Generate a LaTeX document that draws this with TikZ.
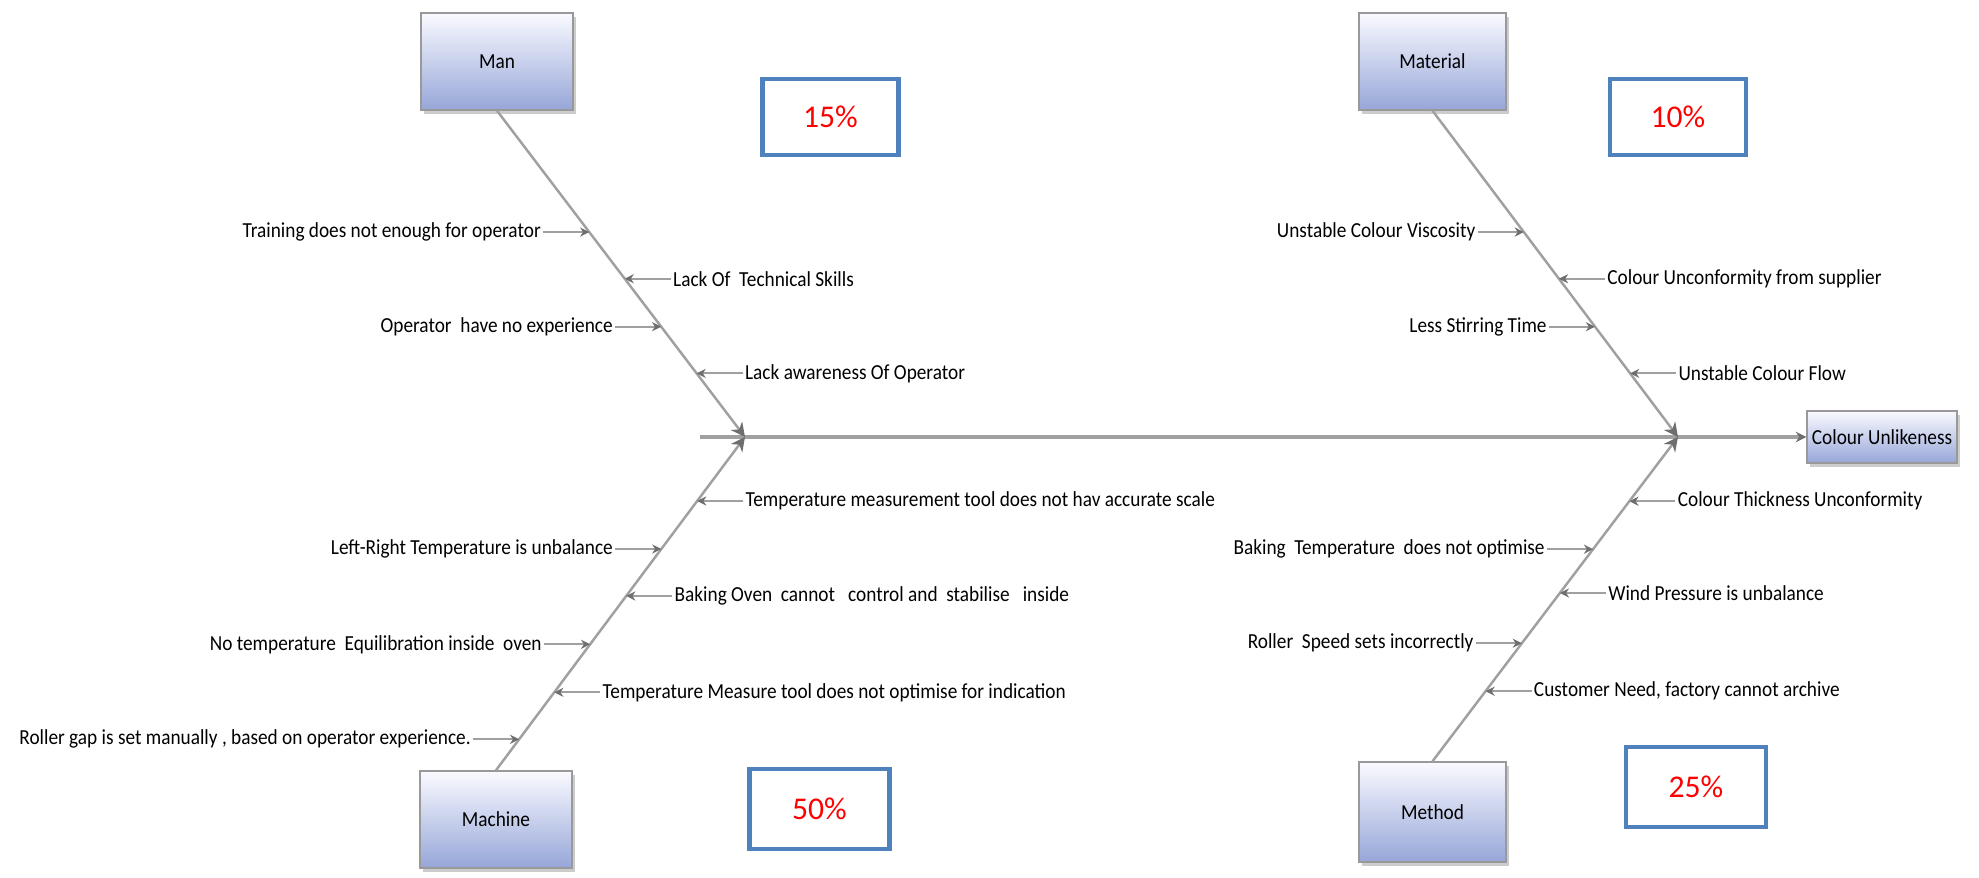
\documentclass[tikz,border=0pt]{standalone}
\usepackage{fontspec}
\setmainfont{Carlito}[FakeStretch=0.9]
\newfontfamily\pctfont{Carlito}
\usetikzlibrary{positioning,calc,arrows.meta,shadows}
\definecolor{boxtop}{RGB}{250,250,255}
\definecolor{boxbot}{RGB}{150,166,216}
\definecolor{pctblue}{RGB}{79,129,189}
\definecolor{bonegray}{RGB}{160,160,160}
\definecolor{tipgray}{RGB}{110,110,110}
\tikzset{
  catbox/.style={draw=gray!80, top color=boxtop, bottom color=boxbot, minimum width=1.52cm, minimum height=0.97cm, inner sep=1pt,
    drop shadow={shadow xshift=0.03cm, shadow yshift=-0.04cm, opacity=0.4}},
  pctbox/.style={draw=pctblue, line width=1.4pt, minimum width=1.36cm, minimum height=0.76cm, text=red, font=\pctfont\fontsize{9}{10}\selectfont},
  cause/.style={inner sep=0.5pt},
  rib/.style={draw=bonegray, line width=0.6pt, -{Stealth[length=2.6pt,width=2.6pt,color=tipgray]}},
  bone/.style={draw=bonegray, line width=0.7pt, -{Stealth[length=4pt,width=4pt,color=tipgray]}}
}
\begin{document}
\begin{tikzpicture}[every node/.style={font=\fontsize{6.1}{7}\selectfont}]
  \useasboundingbox (0,0) rectangle (19.79,8.78);
  \node[catbox] (man) at (4.97,8.165) {Man};
  \node[catbox, minimum width=1.47cm] (material) at (14.325,8.165) {Material};
  \node[catbox] (machine) at (4.96,0.585) {Machine};
  \node[catbox, minimum width=1.47cm, minimum height=1cm] (method) at (14.325,0.66) {Method};
  \node[catbox, minimum width=1.5cm, minimum height=0.52cm] (effect) at (18.82,4.41) {Colour Unlikeness};
  \node[pctbox] (pman) at (8.305,7.61) {15\%};
  \node[pctbox] (pmaterial) at (16.78,7.61) {10\%};
  \node[pctbox, minimum width=1.4cm, minimum height=0.8cm] (pmachine) at (8.195,0.69) {50\%};
  \node[pctbox, minimum width=1.4cm, minimum height=0.8cm] (pmethod) at (16.96,0.91) {25\%};
  \coordinate (start) at (7.00,4.41);
  \coordinate (jl) at (7.45,4.41);
  \coordinate (jr) at (16.78,4.41);
  \draw[bonegray, line width=0.9pt, -{Stealth[length=3pt,width=3pt,color=tipgray]}] (start) -- (effect.west);
  \draw[bone] (man.south) -- (jl);
  \draw[bone] (machine.north) -- (jl);
  \draw[bone] (material.south) -- (jr);
  \draw[bone] (method.north) -- (jr);
  \coordinate (a1) at ($(man.south)!0.372!(jl)$);
  \coordinate (a2) at ($(man.south)!0.515!(jl)$);
  \coordinate (a3) at ($(man.south)!0.662!(jl)$);
  \coordinate (a4) at ($(man.south)!0.805!(jl)$);
  \node[cause, left=0.46cm of a1] (ta1) {Training does not enough for operator};
  \node[cause, right=0.46cm of a2] (ta2) {Lack Of~ Technical Skills};
  \node[cause, left=0.46cm of a3] (ta3) {Operator~ have no experience};
  \node[cause, right=0.46cm of a4] (ta4) {Lack awareness Of Operator};
  \draw[rib] (ta1) -- (a1);
  \draw[rib] (ta2) -- (a2);
  \draw[rib] (ta3) -- (a3);
  \draw[rib] (ta4) -- (a4);
  \coordinate (b1) at ($(material.south)!0.372!(jr)$);
  \coordinate (b2) at ($(material.south)!0.515!(jr)$);
  \coordinate (b3) at ($(material.south)!0.662!(jr)$);
  \coordinate (b4) at ($(material.south)!0.805!(jr)$);
  \node[cause, left=0.46cm of b1] (tb1) {Unstable Colour Viscosity};
  \node[cause, right=0.46cm of b2] (tb2) {Colour Unconformity from supplier};
  \node[cause, left=0.46cm of b3] (tb3) {Less Stirring Time};
  \node[cause, right=0.46cm of b4] (tb4) {Unstable Colour Flow};
  \draw[rib] (tb1) -- (b1);
  \draw[rib] (tb2) -- (b2);
  \draw[rib] (tb3) -- (b3);
  \draw[rib] (tb4) -- (b4);
  \coordinate (c1) at ($(jl)!0.192!(machine.north)$);
  \coordinate (c2) at ($(jl)!0.336!(machine.north)$);
  \coordinate (c3) at ($(jl)!0.477!(machine.north)$);
  \coordinate (c4) at ($(jl)!0.622!(machine.north)$);
  \coordinate (c5) at ($(jl)!0.766!(machine.north)$);
  \coordinate (c6) at ($(jl)!0.907!(machine.north)$);
  \node[cause, right=0.46cm of c1] (tc1) {Temperature measurement tool does not hav accurate scale};
  \node[cause, left=0.46cm of c2] (tc2) {Left-Right Temperature is unbalance};
  \node[cause, right=0.46cm of c3] (tc3) {Baking Oven~ cannot~~ control and~ stabilise~~ inside};
  \node[cause, left=0.46cm of c4] (tc4) {No temperature~ Equilibration inside~ oven};
  \node[cause, right=0.46cm of c5] (tc5) {Temperature Measure tool does not optimise for indication};
  \node[cause, left=0.46cm of c6] (tc6) {Roller gap is set manually , based on operator experience.};
  \draw[rib] (tc1) -- (c1);
  \draw[rib] (tc2) -- (c2);
  \draw[rib] (tc3) -- (c3);
  \draw[rib] (tc4) -- (c4);
  \draw[rib] (tc5) -- (c5);
  \draw[rib] (tc6) -- (c6);
  \coordinate (d1) at ($(jr)!0.198!(method.north)$);
  \coordinate (d2) at ($(jr)!0.346!(method.north)$);
  \coordinate (d3) at ($(jr)!0.481!(method.north)$);
  \coordinate (d4) at ($(jr)!0.636!(method.north)$);
  \coordinate (d5) at ($(jr)!0.784!(method.north)$);
  \node[cause, right=0.46cm of d1] (td1) {Colour Thickness Unconformity};
  \node[cause, left=0.46cm of d2] (td2) {Baking~ Temperature~ does not optimise};
  \node[cause, right=0.46cm of d3] (td3) {Wind Pressure is unbalance};
  \node[cause, left=0.46cm of d4] (td4) {Roller~ Speed sets incorrectly};
  \node[cause, right=0.46cm of d5] (td5) {Customer Need, factory cannot archive};
  \draw[rib] (td1) -- (d1);
  \draw[rib] (td2) -- (d2);
  \draw[rib] (td3) -- (d3);
  \draw[rib] (td4) -- (d4);
  \draw[rib] (td5) -- (d5);
\end{tikzpicture}
\end{document}
